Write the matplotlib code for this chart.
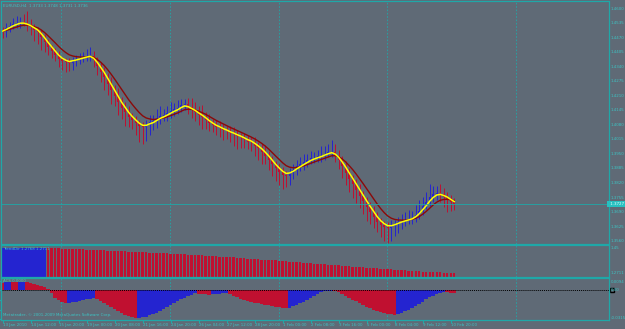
import matplotlib
matplotlib.use("Agg")
import matplotlib.pyplot as plt
import numpy as np
import pandas as pd

# EURUSD H4 closes, one per bar
close = [1.4501, 1.4515, 1.4524, 1.4533, 1.4537, 1.4542, 1.4537, 1.4528, 1.4519, 1.4506,
         1.4497, 1.4474, 1.4452, 1.4429, 1.4411, 1.4393, 1.4375, 1.4366, 1.4362, 1.4358,
         1.4371, 1.4375, 1.4380, 1.4384, 1.4389, 1.4391, 1.4371, 1.4344, 1.4317, 1.4294,
         1.4263, 1.4236, 1.4209, 1.4182, 1.4155, 1.4137, 1.4114, 1.4101, 1.4087, 1.4074,
         1.4069, 1.4078, 1.4092, 1.4096, 1.4110, 1.4119, 1.4123, 1.4132, 1.4141, 1.4150,
         1.4155, 1.4168, 1.4173, 1.4159, 1.4146, 1.4137, 1.4123, 1.4114, 1.4101, 1.4087,
         1.4078, 1.4069, 1.4065, 1.4056, 1.4051, 1.4042, 1.4038, 1.4029, 1.4024, 1.4015,
         1.4006, 1.4002, 1.3988, 1.3975, 1.3961, 1.3943, 1.3925, 1.3903, 1.3885, 1.3871,
         1.3858, 1.3853, 1.3867, 1.3880, 1.3894, 1.3903, 1.3912, 1.3921, 1.3930, 1.3934,
         1.3939, 1.3943, 1.3952, 1.3957, 1.3961, 1.3943, 1.3921, 1.3894, 1.3867, 1.3840,
         1.3817, 1.3790, 1.3763, 1.3741, 1.3714, 1.3691, 1.3669, 1.3646, 1.3633, 1.3624,
         1.3620, 1.3628, 1.3637, 1.3646, 1.3651, 1.3655, 1.3660, 1.3664, 1.3678, 1.3696,
         1.3719, 1.3736, 1.3759, 1.3772, 1.3777, 1.3772, 1.3759, 1.3750, 1.3736, 1.3727]

# wick lengths above / below the body, in pips
wick_up = [15, 20, 18, 25, 30, 22, 35, 55, 25, 15,
           12, 10, 15, 12, 10, 14, 18, 12, 15, 20,
           15, 18, 22, 25, 30, 38, 20, 15, 18, 25,
           20, 30, 25, 35, 22, 28, 30, 20, 18, 15,
           20, 25, 35, 30, 40, 45, 30, 35, 40, 30,
           35, 30, 25, 30, 40, 35, 30, 45, 25, 30,
           20, 25, 30, 20, 18, 25, 30, 20, 15, 20,
           18, 20, 25, 15, 20, 30, 20, 18, 15, 25,
           20, 15, 18, 25, 30, 35, 40, 30, 35, 25,
           30, 45, 35, 40, 50, 35, 25, 20, 25, 20,
           15, 20, 25, 20, 18, 20, 25, 20, 15, 18,
           20, 25, 18, 22, 30, 35, 40, 30, 45, 50,
           40, 45, 55, 35, 30, 40, 25, 20, 18, 15]
wick_dn = [30, 25, 20, 15, 18, 20, 15, 25, 35, 50,
           55, 60, 45, 35, 30, 25, 35, 40, 45, 35,
           30, 25, 20, 18, 15, 20, 30, 40, 45, 55,
           50, 60, 45, 55, 50, 60, 45, 40, 50, 70,
           75, 60, 45, 35, 30, 25, 20, 25, 20, 22,
           20, 18, 20, 30, 35, 40, 45, 50, 40, 35,
           30, 35, 40, 45, 35, 40, 50, 55, 45, 40,
           35, 40, 45, 50, 55, 40, 45, 50, 55, 60,
           65, 50, 40, 30, 25, 20, 25, 20, 18, 22,
           20, 25, 20, 15, 20, 30, 40, 50, 55, 60,
           65, 60, 55, 60, 65, 55, 50, 45, 55, 65,
           70, 60, 45, 40, 30, 25, 20, 25, 20, 18,
           20, 15, 18, 25, 30, 35, 45, 60, 40, 30]

# first sub window (trend histogram)
trend = [1.45] * 13 + [
    1.4493, 1.4484, 1.4475, 1.4465, 1.4456, 1.4447, 1.4437, 1.4428,
    1.4417, 1.4406, 1.4396, 1.4385, 1.4374, 1.4364, 1.4353, 1.4342, 1.4332, 1.4321,
    1.4309, 1.4297, 1.4284, 1.4272, 1.4260, 1.4248, 1.4236, 1.4223, 1.4211, 1.4199,
    1.4186, 1.4173, 1.4160, 1.4148, 1.4135, 1.4122, 1.4109, 1.4096, 1.4084, 1.4071,
    1.4057, 1.4042, 1.4028, 1.4014, 1.3999, 1.3985, 1.3971, 1.3957, 1.3942, 1.3928,
    1.3910, 1.3892, 1.3874, 1.3856, 1.3839, 1.3821, 1.3803, 1.3785, 1.3767, 1.3749,
    1.3731, 1.3713, 1.3695, 1.3677, 1.3660, 1.3642, 1.3624, 1.3606, 1.3588, 1.3570,
    1.3550, 1.3530, 1.3510, 1.3490, 1.3470, 1.3449, 1.3429, 1.3409, 1.3389, 1.3369,
    1.3350, 1.3331, 1.3311, 1.3292, 1.3273, 1.3253, 1.3234, 1.3215, 1.3195, 1.3176,
    1.3158, 1.3140, 1.3122, 1.3104, 1.3087, 1.3069, 1.3051, 1.3033, 1.3015, 1.2997,
    1.2979, 1.2961, 1.2943, 1.2925, 1.2908, 1.2890, 1.2872, 1.2854, 1.2836, 1.2818,
    1.2806, 1.2794, 1.2782, 1.2770, 1.2758, 1.2747, 1.2735, 1.2723, 1.2711]

# second sub window (oscillator)
osc = [0.0078, 0.0086, 0.0089, 0.0087, 0.0085, 0.0088, 0.0090, 0.0086, 0.0080, 0.0072,
       0.0062, 0.0050, 0.0036, 0.0015, -0.0030, -0.0075, -0.0105, -0.0122, -0.0131, -0.0128,
       -0.0124, -0.0118, -0.0111, -0.0102, -0.0092, -0.0085, -0.0081, -0.0092, -0.0110, -0.0130,
       -0.0152, -0.0175, -0.0198, -0.0220, -0.0240, -0.0258, -0.0272, -0.0283, -0.0292, -0.0289,
       -0.0283, -0.0274, -0.0262, -0.0248, -0.0232, -0.0214, -0.0195, -0.0175, -0.0155, -0.0135,
       -0.0115, -0.0094, -0.0075, -0.0058, -0.0043, -0.0030, -0.0032, -0.0036, -0.0040, -0.0043,
       -0.0041, -0.0037, -0.0034, -0.0031, -0.0030, -0.0040, -0.0055, -0.0070, -0.0088, -0.0100,
       -0.0110, -0.0120, -0.0128, -0.0136, -0.0143, -0.0150, -0.0157, -0.0163, -0.0170, -0.0176,
       -0.0181, -0.0185, -0.0180, -0.0168, -0.0152, -0.0135, -0.0116, -0.0096, -0.0075, -0.0055,
       -0.0036, -0.0020, -0.0010, -0.0004, -0.0001, -0.0006, -0.0018, -0.0035, -0.0055, -0.0075,
       -0.0095, -0.0115, -0.0135, -0.0153, -0.0170, -0.0186, -0.0200, -0.0213, -0.0224, -0.0234,
       -0.0242, -0.0249, -0.0254, -0.0247, -0.0234, -0.0218, -0.0200, -0.0181, -0.0160, -0.0138,
       -0.0116, -0.0094, -0.0073, -0.0053, -0.0036, -0.0022, -0.0016, -0.0019, -0.0023, -0.0026]

date_labels = ["13 Jan 2010", "14 Jan 12:00", "15 Jan 20:00", "19 Jan 00:00", "20 Jan 08:00",
               "21 Jan 16:00", "24 Jan 20:00", "26 Jan 04:00", "27 Jan 12:00", "28 Jan 20:00",
               "1 Feb 00:00", "2 Feb 08:00", "3 Feb 16:00", "5 Feb 00:00", "8 Feb 04:00",
               "9 Feb 12:00", "10 Feb 20:00"]
price_ticks = [1.4600, 1.4535, 1.4470, 1.4405, 1.4340, 1.4275, 1.4210, 1.4145, 1.4080,
               1.4015, 1.3950, 1.3885, 1.3820, 1.3755, 1.3690, 1.3625, 1.3560]
vgrid = [16.6, 47.7, 78.9, 109.7, 146.6]

BG = '#5f6a76'
EDGE = '#1fa8a8'
TXT = '#3cc4c4'
RED = '#c01030'
BLUE = '#2424d0'
FS = 2.9

pip = 0.0001
n = len(close)
x = np.arange(n)
close = np.array(close)
opn = np.r_[close[0] + 0.0005, close[:-1]]
high = np.maximum(opn, close) + np.array(wick_up) * pip
low = np.minimum(opn, close) - np.array(wick_dn) * pip
fast = pd.Series(close).ewm(span=3, adjust=False).mean()
slow = pd.Series(close).ewm(span=8, adjust=False).mean()

W, H = 625, 329
fig = plt.figure(figsize=(W / 100, H / 100), dpi=100, facecolor=BG)


def panel(top, bottom):
    ax = fig.add_axes([0.001, 1 - bottom / H, 608 / W, (bottom - top) / H])
    ax.set_facecolor(BG)
    for s in ax.spines.values():
        s.set_color(EDGE)
        s.set_linewidth(0.9)
    ax.tick_params(length=0, labelleft=False, labelbottom=False)
    ax.set_xlim(-0.57, 173.1)
    for g in vgrid:
        ax.axvline(g, color=EDGE, ls=(0, (2, 2)), lw=0.6, zorder=0)
    return ax


def rlabel(ax, y, s, **kw):
    ax.text(1.004, y, s, transform=ax.get_yaxis_transform(), fontsize=FS,
            color=TXT, va='center', ha='left', clip_on=False, **kw)


# main price window
ax = panel(1.5, 243.5)
ax.set_ylim(1.35488, 1.46336)
col = np.where(close >= opn, BLUE, RED)
ax.vlines(x, low, high, colors=col, lw=0.7)
ax.vlines(x, np.minimum(opn, close), np.maximum(opn, close), colors=col, lw=1.5)
ax.plot(x, slow, color='#8b0a0a', lw=1.0)
ax.plot(x, fast, color='#ffff00', lw=1.1)
ax.axhline(close[-1], color=EDGE, lw=0.6)
for p in price_ticks:
    if abs(p - close[-1]) > 0.0012:
        rlabel(ax, p, f'{p:.4f}')
ax.text(1.0, close[-1], f' {close[-1]:.4f} ', transform=ax.get_yaxis_transform(), fontsize=FS,
        color='#e8ffff', va='center', ha='left', clip_on=False,
        bbox=dict(boxstyle='square,pad=0.3', fc='#27c0c0', ec='none'))
ax.text(0.004, 0.99, 'EURUSD,H4  1.3733 1.3748 1.3731 1.3736', transform=ax.transAxes,
        fontsize=FS, color=TXT, va='top')

# trend histogram
ax1 = panel(245, 276.5)
base1 = 1.2461
ax1.set_ylim(base1, 1.4715)
trend = np.array(trend)
falling = np.r_[0, np.diff(trend)] < 0
ax1.bar(x, trend - base1, bottom=base1, width=np.where(falling, 0.7, 1.0),
        color=np.where(falling, RED, BLUE), lw=0)
rlabel(ax1, 1.45, '1.45')
rlabel(ax1, 1.2711, '1.2711')
ax1.text(0.004, 0.95, 'TrendDir 1.2768 1.2711', transform=ax1.transAxes,
         fontsize=FS, color=TXT, va='top')

# oscillator
ax2 = panel(278, 320)
ax2.set_ylim(-0.0310, 0.0131)
osc = np.array(osc)
rising = np.r_[-1, np.diff(osc)] > 0
ax2.bar(x, osc, width=1.0, color=np.where(rising, BLUE, RED), lw=0)
ax2.axhline(0, color='black', ls=(0, (1, 1)), lw=0.7)
ax2.plot([1.006], [0], marker='s', mfc='none', mec='black', ms=3,
         transform=ax2.get_yaxis_transform(), clip_on=False)
rlabel(ax2, 0.0094, '0.0094')
rlabel(ax2, 0.0, '0.00')
rlabel(ax2, -0.0290, '-0.0315')
ax2.text(0.004, 0.97, 'ACS 0.0000', transform=ax2.transAxes,
         fontsize=FS, color=TXT, va='top')
ax2.text(0.004, 0.06, 'Metatrader, \u00a9 2001-2009 MetaQuotes Software Corp.',
         transform=ax2.transAxes, fontsize=FS, color=TXT, va='bottom')

ax2.set_xticks(x[::8])
ax2.set_xticklabels(date_labels, ha='left')
ax2.tick_params(labelbottom=True, labelsize=FS, labelcolor=TXT, length=2,
                color=EDGE, direction='out', pad=0.5)

fig.savefig('out.png', dpi=100, facecolor=BG)
